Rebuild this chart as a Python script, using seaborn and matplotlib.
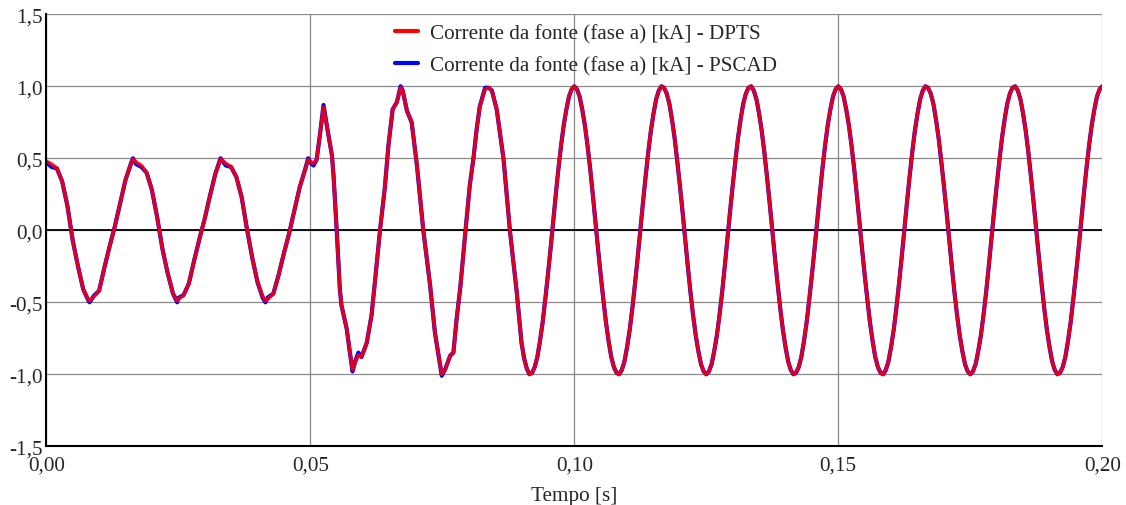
import numpy as np
import pandas as pd
import seaborn as sns
import matplotlib.pyplot as plt
from matplotlib.lines import Line2D

# pre-fault + transient part, time in ms, current in kA
time_ms = [
    0, 1, 2, 3, 4, 5, 6, 7, 8, 8.2, 9, 10, 11, 12, 13, 14, 15, 16, 16.4,
    17, 18, 19, 20, 21, 22, 23, 24, 24.8, 25, 26, 27, 28, 29, 30, 31, 32, 33,
    34, 35, 36, 37, 38, 39, 40, 41, 41.5, 42, 43, 44, 45, 46, 47, 48, 49, 49.6,
    50.0, 50.6, 51.2, 51.85, 52.5, 53.3, 54.1, 54.4, 55.0, 55.6, 55.9, 56.9, 57.5,
    58.0, 58.5, 59.1, 59.7, 60.7, 61.6, 62.4, 63.2, 64.1, 64.8, 65.6, 66.4, 67.1,
    67.5, 68.3, 69.2, 70.2, 71.4, 72.7, 73.6, 74.9, 75.6, 76.5, 77.1, 77.7, 78.4,
    79.4, 80.2, 80.9, 81.5, 82.1, 83.1, 83.8, 84.4, 85.3, 86.6, 87.8, 89.1,
]

dpts_ka = [
    0.48, 0.46, 0.43, 0.34, 0.17, -0.07, -0.25, -0.41, -0.485, -0.49, -0.46, -0.42, -0.26, -0.11, 0.03, 0.19, 0.35, 0.46, 0.495,
    0.475, 0.45, 0.40, 0.28, 0.09, -0.13, -0.30, -0.44, -0.49, -0.48, -0.45, -0.37, -0.21, -0.06, 0.08, 0.24, 0.39, 0.495,
    0.465, 0.44, 0.37, 0.23, 0.01, -0.19, -0.36, -0.46, -0.49, -0.475, -0.44, -0.31, -0.16, -0.02, 0.14, 0.30, 0.42, 0.49,
    0.48, 0.465, 0.49, 0.67, 0.855, 0.69, 0.52, 0.38, 0.0, -0.41, -0.52, -0.685, -0.84,
    -0.97, -0.92, -0.865, -0.88, -0.78, -0.59, -0.30, 0.0, 0.29, 0.59, 0.84, 0.89, 0.99,
    0.97, 0.83, 0.75, 0.45, 0.0, -0.385, -0.71, -1.0, -0.96, -0.87, -0.85, -0.62, -0.40,
    0.0, 0.31, 0.50, 0.70, 0.86, 0.98, 0.99, 0.97, 0.84, 0.495, 0.0, -0.43,
]

pscad_ka = [
    0.47, 0.44, 0.43, 0.34, 0.17, -0.07, -0.25, -0.41, -0.49, -0.50, -0.455, -0.42, -0.26, -0.11, 0.03, 0.19, 0.35, 0.46, 0.50,
    0.46, 0.44, 0.40, 0.28, 0.09, -0.13, -0.30, -0.44, -0.50, -0.47, -0.45, -0.37, -0.21, -0.06, 0.08, 0.24, 0.39, 0.50,
    0.45, 0.44, 0.37, 0.23, 0.01, -0.19, -0.36, -0.47, -0.50, -0.465, -0.44, -0.31, -0.16, -0.02, 0.14, 0.30, 0.42, 0.50,
    0.47, 0.45, 0.49, 0.67, 0.87, 0.69, 0.52, 0.38, 0.0, -0.41, -0.52, -0.685, -0.85,
    -0.98, -0.91, -0.85, -0.88, -0.78, -0.59, -0.30, 0.0, 0.29, 0.59, 0.84, 0.89, 1.00,
    0.97, 0.83, 0.75, 0.45, 0.0, -0.385, -0.71, -1.01, -0.96, -0.87, -0.85, -0.62, -0.40,
    0.0, 0.31, 0.50, 0.70, 0.86, 0.99, 0.99, 0.97, 0.84, 0.495, 0.0, -0.43,
]

# steady state, sampled every 0.5 ms from 90 ms to 200 ms (both curves overlap here)
steady_time_ms = np.arange(90, 200.25, 0.5)
steady_ka = [
    -0.78, -0.89, -0.96, -1.00, -0.99, -0.95, -0.88, -0.77, -0.64, -0.48,
    -0.31, -0.13, 0.06, 0.25, 0.43, 0.59, 0.73, 0.84, 0.93, 0.98,
    # 100 ms
    1.00, 0.98, 0.93, 0.84, 0.73, 0.59, 0.43, 0.25, 0.06, -0.13,
    -0.31, -0.48, -0.64, -0.77, -0.88, -0.95, -0.99, -1.00, -0.97, -0.91,
    -0.81, -0.69, -0.54, -0.37, -0.19, 0.00, 0.19, 0.37, 0.54, 0.69,
    0.81, 0.91, 0.97, 1.00, 0.99, 0.95, 0.88, 0.77, 0.64, 0.48,
    0.31, 0.13, -0.06, -0.25, -0.43, -0.59, -0.73, -0.84, -0.93, -0.98,
    -1.00, -0.98, -0.93, -0.84, -0.73, -0.59, -0.43, -0.25, -0.06, 0.13,
    0.31, 0.48, 0.64, 0.77, 0.88, 0.95, 0.99, 1.00, 0.97, 0.91,
    0.81, 0.69, 0.54, 0.37, 0.19, 0.00, -0.19, -0.37, -0.54, -0.69,
    -0.81, -0.91, -0.97, -1.00, -0.99, -0.95, -0.88, -0.77, -0.64, -0.48,
    -0.31, -0.13, 0.06, 0.25, 0.43, 0.59, 0.73, 0.84, 0.93, 0.98,
    # 150 ms
    1.00, 0.98, 0.93, 0.84, 0.73, 0.59, 0.43, 0.25, 0.06, -0.13,
    -0.31, -0.48, -0.64, -0.77, -0.88, -0.95, -0.99, -1.00, -0.97, -0.91,
    -0.81, -0.69, -0.54, -0.37, -0.19, 0.00, 0.19, 0.37, 0.54, 0.69,
    0.81, 0.91, 0.97, 1.00, 0.99, 0.95, 0.88, 0.77, 0.64, 0.48,
    0.31, 0.13, -0.06, -0.25, -0.43, -0.59, -0.73, -0.84, -0.93, -0.98,
    -1.00, -0.98, -0.93, -0.84, -0.73, -0.59, -0.43, -0.25, -0.06, 0.13,
    0.31, 0.48, 0.64, 0.77, 0.88, 0.95, 0.99, 1.00, 0.97, 0.91,
    0.81, 0.69, 0.54, 0.37, 0.19, 0.00, -0.19, -0.37, -0.54, -0.69,
    -0.81, -0.91, -0.97, -1.00, -0.99, -0.95, -0.88, -0.77, -0.64, -0.48,
    -0.31, -0.13, 0.06, 0.25, 0.43, 0.59, 0.73, 0.84, 0.93, 0.98,
    # 200 ms
    1.00,
]

x_ticks = [0.0, 0.05, 0.10, 0.15, 0.20]
x_tick_labels = ["0,00", "0,05", "0,10", "0,15", "0,20"]
y_ticks = [-1.5, -1.0, -0.5, 0.0, 0.5, 1.0, 1.5]
y_tick_labels = ["-1,5", "-1,0", "-0,5", "0,0", "0,5", "1,0", "1,5"]

label_dpts = "Corrente da fonte (fase a) [kA] - DPTS"
label_pscad = "Corrente da fonte (fase a) [kA] - PSCAD"

assert len(time_ms) == len(dpts_ka) == len(pscad_ka)
assert len(steady_time_ms) == len(steady_ka)

t_all = np.concatenate([time_ms, steady_time_ms]) / 1000.0
df = pd.DataFrame({
    "t": t_all,
    "dpts": list(dpts_ka) + list(steady_ka),
    "pscad": list(pscad_ka) + list(steady_ka),
})

sns.set_style("white")
plt.rcParams["font.family"] = ["Liberation Serif", "DejaVu Serif"]
FS = 15.2

fig = plt.figure(figsize=(11.26, 5.06), dpi=100)
ax = fig.add_axes([46.3 / 1126, 1 - 447.3 / 506, 1056 / 1126, 432 / 506])

sns.lineplot(data=df, x="t", y="pscad", ax=ax, color="#0000ff", linewidth=3.0,
             zorder=3, estimator=None)
sns.lineplot(data=df, x="t", y="dpts", ax=ax, color="#ff0000", linewidth=2.6,
             alpha=0.85, zorder=4, estimator=None)

ax.set_xlim(0, 0.2)
ax.set_ylim(-1.5, 1.5)
ax.set_xticks(x_ticks)
ax.set_xticklabels(x_tick_labels, fontsize=FS)
ax.set_yticks(y_ticks)
ax.set_yticklabels(y_tick_labels, fontsize=FS)
ax.grid(True, color="#8a8a8a", linewidth=0.9)
ax.axhline(0, color="black", linewidth=1.3, zorder=2)

for side in ["top", "right"]:
    ax.spines[side].set_visible(False)
for side in ["left", "bottom"]:
    ax.spines[side].set_color("black")
    ax.spines[side].set_linewidth(1.5)
    ax.spines[side].set_zorder(5)
ax.tick_params(axis="y", direction="out", length=2, width=1, color="black", pad=0.5)
ax.tick_params(axis="x", direction="out", length=2, width=1, color="black", pad=5)

ax.set_xlabel("Tempo [s]", fontsize=FS, labelpad=8)
ax.set_ylabel("")

handles = [Line2D([], [], color="#ff0000", linewidth=3),
           Line2D([], [], color="#0000ff", linewidth=3)]
fig.legend(handles, [label_dpts, label_pscad], loc="upper left",
           bbox_to_anchor=(395 / 1126, 1 - 25 / 506), frameon=False, fontsize=FS,
           borderpad=0, borderaxespad=0, handlelength=1.1, handletextpad=0.55,
           labelspacing=0.55)

fig.savefig("out.png", dpi=100)
